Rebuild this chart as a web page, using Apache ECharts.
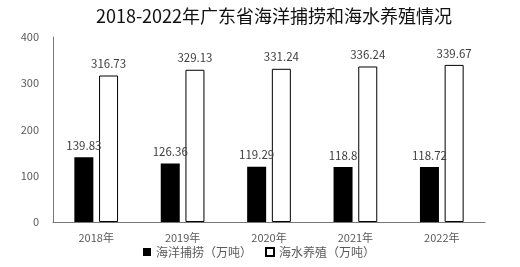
<!DOCTYPE html>
<html><head><meta charset="utf-8">
<script src="https://cdn.jsdelivr.net/npm/echarts@6/dist/echarts.min.js"></script>
<style>html,body{margin:0;padding:0;background:#fff}#c{width:520px;height:267px}</style>
</head><body><div id="c"></div>
<script>
const categories = ['2018年','2019年','2020年','2021年','2022年'];
const fishing = [139.83,126.36,119.29,118.8,118.72];
const aquaculture = [316.73,329.13,331.24,336.24,339.67];
const seriesNames = ['海洋捕捞（万吨）','海水养殖（万吨）'];
const yTicks = [0,100,200,300,400];

const font = '"Noto Sans CJK SC", "Noto Sans", sans-serif';
const chart = echarts.init(document.getElementById('c'));
chart.setOption({
  animation:false,
  backgroundColor:'#fff',
  title:{text:'2018-2022年广东省海洋捕捞和海水养殖情况',left:269,textAlign:'center',top:2,
    textStyle:{fontSize:18,fontWeight:'normal',color:'#111',fontFamily:font}},
  grid:{left:53,right:35,top:37,bottom:45},
  legend:{bottom:4,left:138,itemWidth:8,itemHeight:8,itemGap:13,
    textStyle:{fontSize:12,color:'#595959',fontFamily:font},
    data:[{name:seriesNames[0],icon:'rect'},{name:seriesNames[1],icon:'rect'}]},
  xAxis:{type:'category',data:categories,
    axisLine:{lineStyle:{color:'#767676'}},axisTick:{show:false},
    axisLabel:{color:'#595959',fontSize:11,fontFamily:font,margin:10}},
  yAxis:{type:'value',min:yTicks[0],max:yTicks[yTicks.length-1],interval:100,
    axisLine:{show:true,lineStyle:{color:'#767676'}},axisTick:{show:false},
    splitLine:{show:false},
    axisLabel:{color:'#595959',fontSize:11,fontFamily:font,margin:14}},
  series:[
    {name:seriesNames[0],type:'bar',data:fishing,barWidth:19,barGap:'30%',
     itemStyle:{color:'#000'},
     label:{show:true,position:'top',color:'#404040',fontSize:11.5,fontFamily:font,distance:6}},
    {name:seriesNames[1],type:'bar',data:aquaculture,barWidth:19,
     itemStyle:{color:'#fff',borderColor:'#000',borderWidth:1},
     label:{show:true,position:'top',color:'#404040',fontSize:11.5,fontFamily:font,distance:6}}
  ]
});
</script></body></html>
